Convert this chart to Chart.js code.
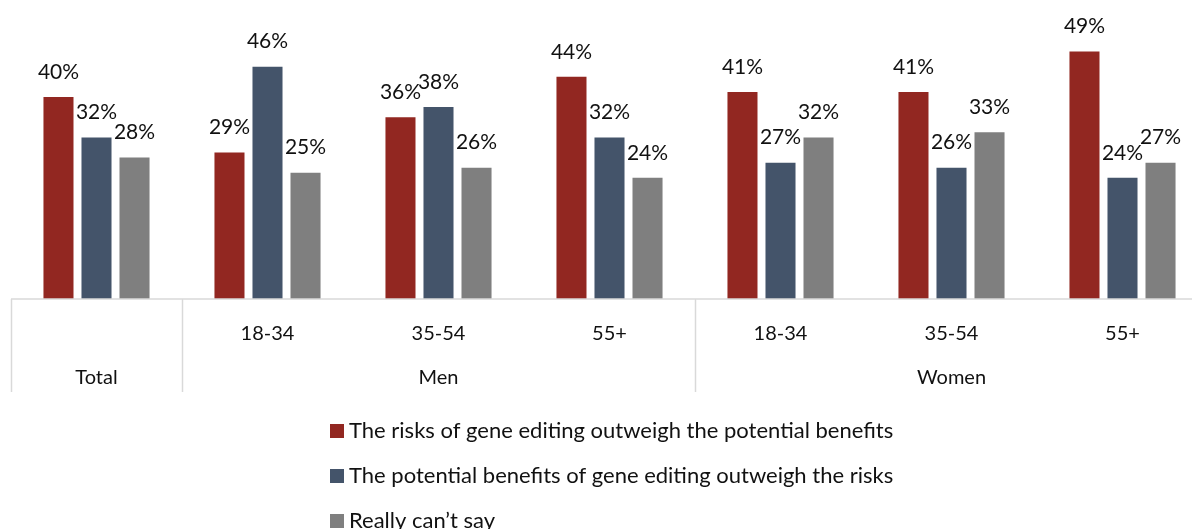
<!DOCTYPE html>
<html>
<head>
<meta charset="utf-8">
<script src="https://cdn.jsdelivr.net/npm/chart.js@4/dist/chart.umd.min.js"></script>
<style>
  html, body { margin: 0; padding: 0; background: #fff; overflow: hidden; }
  #wrap { width: 1192px; height: 529px; overflow: hidden; position: relative; }
  #wrap canvas { position: absolute; left: 0; top: 0; }
</style>
</head>
<body>
<div id="wrap"><canvas id="geneChart" width="1215" height="529"></canvas></div>
<script>
const subLabels = ["", "18-34", "35-54", "55+", "18-34", "35-54", "55+"];
const groupLabels = ["Total", "Men", "Women"];
const groupSpans = [1, 3, 3];
const seriesNames = [
  "The risks of gene editing outweigh the potential benefits",
  "The potential benefits of gene editing outweigh the risks",
  "Really can\u2019t say"
];
const risksOutweigh = [40, 29, 36, 44, 41, 41, 49];
const benefitsOutweigh = [32, 46, 38, 32, 27, 26, 24];
const cantSay = [28, 25, 26, 24, 32, 33, 27];
const seriesColors = ["#922721", "#44546A", "#7F7F7F"];

const FONT = "Lato, 'Open Sans', sans-serif";
const TEXT = "#111111";
const LINE = "#d9d9d9";

// value labels, two-level category axis and legend
const decorPlugin = {
  id: "decor",
  afterDatasetsDraw(chart) {
    const ctx = chart.ctx;
    ctx.save();
    ctx.font = "21px " + FONT;
    ctx.fillStyle = TEXT;
    ctx.textAlign = "center";
    ctx.textBaseline = "middle";
    chart.data.datasets.forEach((ds, i) => {
      chart.getDatasetMeta(i).data.forEach((bar, j) => {
        ctx.fillText(ds.data[j] + "%", bar.x, bar.y - 25);
      });
    });
    ctx.restore();
  },
  afterDraw(chart) {
    const ctx = chart.ctx;
    const area = chart.chartArea;
    const x = chart.scales.x;
    const step = x.getPixelForValue(1) - x.getPixelForValue(0);
    const axisY = area.bottom;
    const bottomY = axisY + 93;

    ctx.save();
    ctx.strokeStyle = LINE;
    ctx.lineWidth = 1.5;
    ctx.beginPath();
    ctx.moveTo(area.left, axisY);
    ctx.lineTo(area.right, axisY);
    ctx.stroke();

    // group separators
    let idx = 0;
    const edges = [idx];
    groupSpans.forEach(n => { idx += n; edges.push(idx); });
    edges.forEach(e => {
      const px = Math.round(x.getPixelForValue(e) - step / 2) + 0.5;
      ctx.beginPath();
      ctx.moveTo(px, axisY);
      ctx.lineTo(px, bottomY);
      ctx.stroke();
    });

    ctx.font = "20px " + FONT;
    ctx.fillStyle = TEXT;
    ctx.textAlign = "center";
    ctx.textBaseline = "middle";
    subLabels.forEach((lab, i) => {
      if (lab) ctx.fillText(lab, x.getPixelForValue(i), axisY + 35);
    });
    groupLabels.forEach((lab, g) => {
      const mid = (edges[g] + edges[g + 1] - 1) / 2;
      ctx.fillText(lab, x.getPixelForValue(mid), axisY + 79);
    });

    // legend
    ctx.font = "22px " + FONT;
    ctx.textAlign = "left";
    chart.data.datasets.forEach((ds, i) => {
      const y = 431 + i * 45;
      ctx.fillStyle = ds.backgroundColor;
      ctx.fillRect(330, y - 7, 14, 14);
      ctx.fillStyle = TEXT;
      ctx.fillText(ds.label, 349, y);
    });
    ctx.restore();
  }
};

new Chart(document.getElementById("geneChart"), {
  type: "bar",
  data: {
    labels: subLabels,
    datasets: [
      { label: seriesNames[0], data: risksOutweigh, backgroundColor: seriesColors[0] },
      { label: seriesNames[1], data: benefitsOutweigh, backgroundColor: seriesColors[1] },
      { label: seriesNames[2], data: cantSay, backgroundColor: seriesColors[2] }
    ]
  },
  options: {
    responsive: false,
    animation: false,
    layout: { padding: { left: 11, right: 7, top: 0, bottom: 230 } },
    datasets: { bar: { categoryPercentage: 0.667, barPercentage: 0.79 } },
    scales: {
      x: { display: false },
      y: { display: false, min: 0, max: 59.2 }
    },
    plugins: {
      legend: { display: false },
      tooltip: { enabled: false }
    }
  },
  plugins: [decorPlugin]
});
</script>
</body>
</html>
